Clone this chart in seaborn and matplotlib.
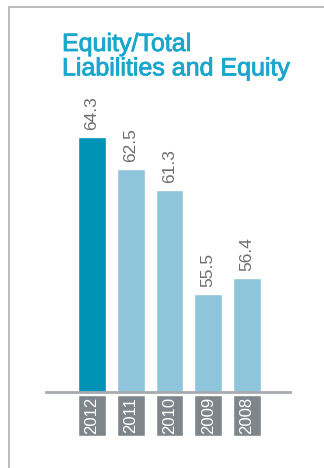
import matplotlib
matplotlib.use("Agg")
import matplotlib.pyplot as plt
import matplotlib.patheffects as pe
import seaborn as sns
import pandas as pd
from matplotlib.lines import Line2D

years = ["2012", "2011", "2010", "2009", "2008"]
values = [64.3, 62.5, 61.3, 55.5, 56.4]
bar_colors = ["#0093b5", "#8fc5da", "#8fc5da", "#8fc5da", "#8fc5da"]
title = "Equity/Total\nLiabilities and Equity"

sns.set_theme(style="white")
plt.rcParams["font.family"] = ["Liberation Sans", "DejaVu Sans"]

W, H = 324, 468
fig = plt.figure(figsize=(W / 100, H / 100), dpi=100)

# axes in pixel coordinates
left_px, right_px, top_px, bottom_px = 46, 290, 80, 392
ax = fig.add_axes([left_px / W, 1 - bottom_px / H,
                   (right_px - left_px) / W, (bottom_px - top_px) / H])

df = pd.DataFrame({"year": years, "value": values})
sns.barplot(data=df, x="year", y="value", hue="year", order=years,
            palette=bar_colors, width=0.72, dodge=False, legend=False,
            saturation=1, ax=ax)

ppu = 17.84  # pixels per data unit
ymin = 50.0
ax.set_ylim(ymin, ymin + (bottom_px - top_px) / ppu)
step = 38.75
ax.set_xlim(-(92 - left_px) / step, (right_px - 92) / step)

for s in ["top", "right", "left"]:
    ax.spines[s].set_visible(False)
ax.spines["bottom"].set_color("#a7abaf")
ax.spines["bottom"].set_linewidth(2.0)
ax.spines["bottom"].set_zorder(5)
ax.set_xticks([])
ax.set_yticks([])
ax.set_xlabel("")
ax.set_ylabel("")

# value labels
for i, v in enumerate(values):
    ax.annotate(f"{v}", xy=(i, v), xytext=(0, 5), textcoords="offset points",
                rotation=90, ha="center", va="bottom", fontsize=12.5,
                color="#6d6e71")

# year boxes below axis
box_top = ymin - 3 / ppu
box_h = 41 / ppu
ax.bar(range(len(years)), [-box_h] * len(years), bottom=box_top, width=0.72,
       color="#7f868b", clip_on=False, zorder=3)
for i, y in enumerate(years):
    ax.text(i, box_top - box_h / 2, y, rotation=90, ha="center", va="center",
            fontsize=12, color="white", clip_on=False, zorder=4)

# title
fig.text(62 / W, 1 - 32 / H, title, ha="left", va="top", fontsize=18,
         color="#1aa6cd", linespacing=1.02,
         path_effects=[pe.withStroke(linewidth=0.6, foreground="#1aa6cd")])

# frame
fig.add_artist(Line2D([9 / W, 9 / W], [0, 1 - 7 / H], transform=fig.transFigure,
                      color="#b9bbbd", lw=1.4))
fig.add_artist(Line2D([9 / W, 1], [1 - 7 / H, 1 - 7 / H], transform=fig.transFigure,
                      color="#b9bbbd", lw=1.4))

fig.savefig("out.png", dpi=100)
